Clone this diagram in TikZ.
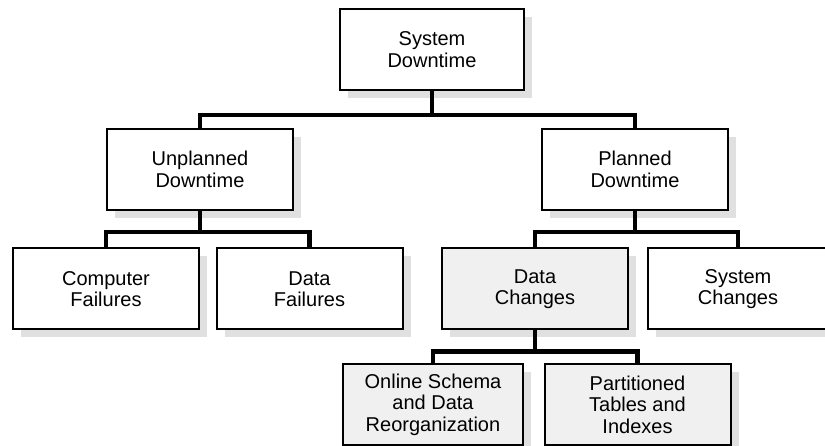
\documentclass[tikz,border=0pt]{standalone}
\usepackage{fontspec}
\setmainfont{Liberation Sans}
\usetikzlibrary{shadows}
\begin{document}
\begin{tikzpicture}[x=1pt, y=-1pt,
    box/.style={draw, line width=2pt, fill=white, minimum width=186pt, minimum height=81pt,
        align=center, inner sep=0pt, font=\fontsize{20}{21.5}\selectfont,
        drop shadow={shadow xshift=8pt, shadow yshift=-8pt, fill=gray!24, opacity=1}},
    conn/.style={line width=4.5pt, line join=miter}]
    \useasboundingbox (0,0) rectangle (825,446);

    % top level
    \node[box, minimum width=184pt] (sys) at (432,49.5) {System\\Downtime};

    % planned / unplanned
    \node[box] (unpl) at (200,169.5) {Unplanned\\Downtime};
    \node[box] (plan) at (635,169.5) {Planned\\Downtime};

    % causes
    \node[box] (comp) at (106,289) {Computer\\Failures};
    \node[box] (dfail) at (309.5,289) {Data\\Failures};
    \node[box, fill=gray!12] (dchg) at (535,289) {Data\\Changes};
    \node[box, minimum width=180pt] (schg) at (738,289) {System\\Changes};

    % solutions
    \node[box, fill=gray!12, minimum width=180pt] (online) at (433,404.5) {Online Schema\\and Data\\Reorganization};
    \node[box, fill=gray!12] (part) at (637.5,404.5) {Partitioned\\Tables and\\Indexes};

    % connectors
    \draw[conn] (sys.south) -- ++(0,24) -| (unpl.north);
    \draw[conn] (sys.south) -- ++(0,24) -| (plan.north);
    \draw[conn] (unpl.south) -- ++(0,21) -| (comp.north);
    \draw[conn] (unpl.south) -- ++(0,21) -| (dfail.north);
    \draw[conn] (plan.south) -- ++(0,21) -| (dchg.north);
    \draw[conn] (plan.south) -- ++(0,21) -| (schg.north);
    \draw[conn] (dchg.south) -- ++(0,21) -| (online.north);
    \draw[conn] (dchg.south) -- ++(0,21) -| (part.north);

\end{tikzpicture}
\end{document}
